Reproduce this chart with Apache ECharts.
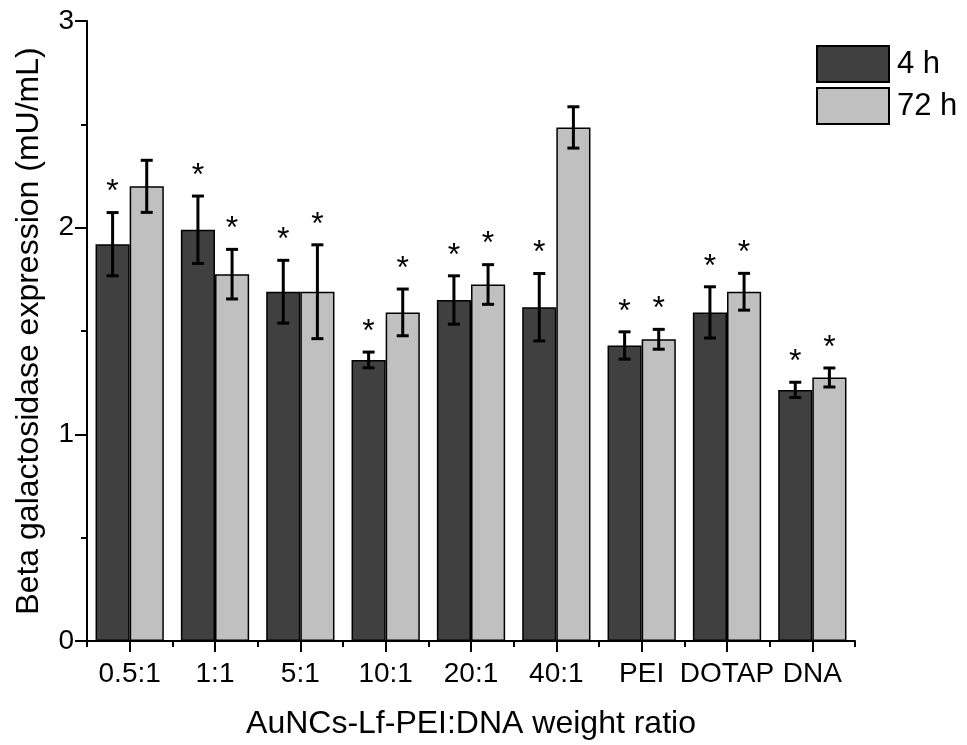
<!DOCTYPE html>
<html>
<head>
<meta charset="utf-8">
<script src="https://cdn.jsdelivr.net/npm/echarts@6/dist/echarts.min.js"></script>
<style>
  html, body { margin: 0; padding: 0; background: #fff; }
  #chart { width: 967px; height: 745px; }
</style>
</head>
<body>
<div id="chart"></div>
<script>
// Beta galactosidase expression per AuNCs-Lf-PEI:DNA weight ratio and controls
const categories = ['0.5:1', '1:1', '5:1', '10:1', '20:1', '40:1', 'PEI', 'DOTAP', 'DNA'];
const mean4h  = [1.92, 1.99, 1.69, 1.36, 1.65, 1.615, 1.43, 1.59, 1.215];
const err4h   = [0.153, 0.163, 0.152, 0.038, 0.117, 0.163, 0.066, 0.124, 0.037];
const mean72h = [2.20, 1.775, 1.69, 1.59, 1.725, 2.485, 1.46, 1.69, 1.275];
const err72h  = [0.126, 0.12, 0.227, 0.113, 0.096, 0.10, 0.048, 0.089, 0.046];
// significance markers (1 = asterisk above the bar)
const star4h  = [1, 1, 1, 1, 1, 1, 1, 1, 1];
const star72h = [0, 1, 1, 1, 1, 0, 1, 1, 1];
const yTicks = [0, 1, 2, 3];

const FONT = '"Liberation Sans", Arial, Helvetica, sans-serif';
const DARK = '#404040';
const LIGHT = '#c0c0c0';

// error bar + asterisk drawer; offset is the bar centre as a fraction of the band
function errorRenderer(offset) {
  return function (params, api) {
    const idx = api.value(0);
    const m = api.value(1);
    const e = api.value(2);
    const star = api.value(3);
    const band = api.size([1, 0])[0];
    const x = api.coord([idx, m])[0] + offset * band;
    const yTop = api.coord([idx, m + e])[1];
    const yBot = api.coord([idx, m - e])[1];
    const cap = 6;
    const style = { stroke: '#000', lineWidth: 3 };
    const children = [
      { type: 'line', shape: { x1: x, y1: yTop, x2: x, y2: yBot }, style: style },
      { type: 'line', shape: { x1: x - cap, y1: yTop, x2: x + cap, y2: yTop }, style: style },
      { type: 'line', shape: { x1: x - cap, y1: yBot, x2: x + cap, y2: yBot }, style: style }
    ];
    if (star) {
      children.push({
        type: 'text',
        style: {
          text: '*', x: x, y: yTop - 20,
          align: 'center', verticalAlign: 'middle',
          font: '32px ' + FONT, fill: '#000'
        }
      });
    }
    return { type: 'group', children: children };
  };
}

function errData(means, errs, stars) {
  return means.map((m, i) => [i, m, errs[i], stars[i]]);
}

const chart = echarts.init(document.getElementById('chart'), null, { renderer: 'canvas' });

chart.setOption({
  animation: false,
  backgroundColor: '#fff',
  textStyle: { fontFamily: FONT },
  grid: { left: 87, right: 112, top: 21, bottom: 103, containLabel: false },
  legend: {
    data: ['4 h', '72 h'],
    orient: 'vertical',
    left: 816, top: 45, padding: 0,
    itemWidth: 72, itemHeight: 36, itemGap: 4,
    textStyle: { fontSize: 31, color: '#000', fontFamily: FONT, padding: [0, 0, 0, 3] },
    icon: 'rect',
    selectedMode: false
  },
  xAxis: [
    {
      type: 'category',
      data: categories,
      position: 'bottom',
      axisLine: { show: true, lineStyle: { color: '#000', width: 2 } },
      axisTick: { show: true, inside: false, interval: 0, alignWithLabel: true, length: 11,
                  lineStyle: { color: '#000', width: 2 } },
      axisLabel: { color: '#000', fontSize: 28, fontFamily: FONT, margin: 19, interval: 0 },
      name: 'AuNCs-Lf-PEI:DNA weight ratio',
      nameLocation: 'middle',
      nameGap: 67,
      nameTextStyle: { color: '#000', fontSize: 32, fontFamily: FONT }
    },
    {
      // short ticks on category boundaries
      type: 'category',
      data: categories,
      position: 'bottom',
      axisLine: { show: false },
      axisTick: { show: true, inside: false, interval: 0, alignWithLabel: false, length: 6,
                  lineStyle: { color: '#000', width: 2 } },
      axisLabel: { show: false }
    }
  ],
  yAxis: {
    type: 'value',
    min: yTicks[0],
    max: yTicks[yTicks.length - 1],
    interval: 1,
    axisLine: { show: true, lineStyle: { color: '#000', width: 2 } },
    axisTick: { show: true, length: 12, lineStyle: { color: '#000', width: 2 } },
    minorTick: { show: true, splitNumber: 2, length: 6, lineStyle: { color: '#000', width: 2 } },
    splitLine: { show: false },
    axisLabel: { color: '#000', fontSize: 28, fontFamily: FONT, margin: 13 },
    name: 'Beta galactosidase expression (mU/mL)',
    nameLocation: 'middle',
    nameGap: 42,
    nameTextStyle: { color: '#000', fontSize: 32, fontFamily: FONT }
  },
  series: [
    {
      name: '4 h', type: 'bar', data: mean4h,
      barGap: '0%', barCategoryGap: '20%',
      itemStyle: { color: DARK, borderColor: '#000', borderWidth: 1.5 }
    },
    {
      name: '72 h', type: 'bar', data: mean72h,
      barGap: '0%', barCategoryGap: '20%',
      itemStyle: { color: LIGHT, borderColor: '#000', borderWidth: 1.5 }
    },
    {
      name: 'err4h', type: 'custom', data: errData(mean4h, err4h, star4h),
      renderItem: errorRenderer(-0.2), z: 5,
      encode: { x: 0, y: 1 }
    },
    {
      name: 'err72h', type: 'custom', data: errData(mean72h, err72h, star72h),
      renderItem: errorRenderer(0.2), z: 5,
      encode: { x: 0, y: 1 }
    }
  ]
});
</script>
</body>
</html>
